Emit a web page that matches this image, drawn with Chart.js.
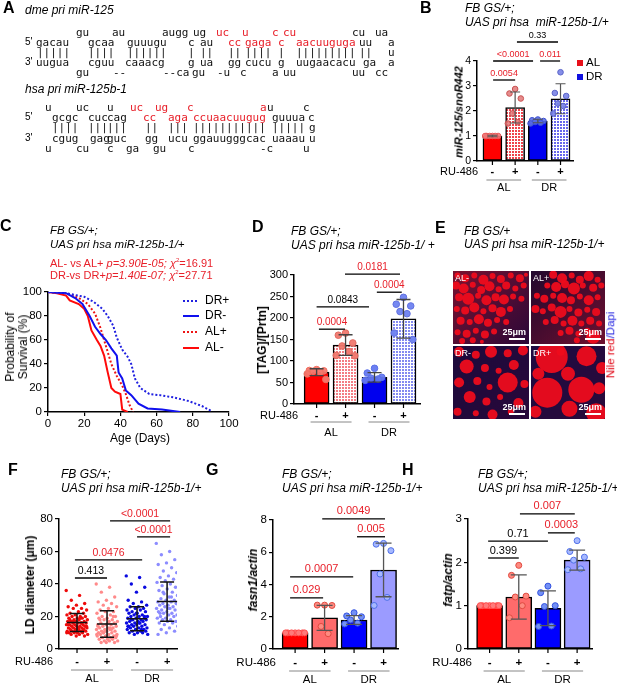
<!DOCTYPE html>
<html>
<head>
<meta charset="utf-8">
<title>miR-125 figure</title>
<script src="https://cdn.jsdelivr.net/npm/chart.js@4.4.1/dist/chart.umd.min.js"></script>
<style>
  html, body { margin: 0; padding: 0; background: #fff; }
  #fig { position: relative; width: 617px; height: 684px; overflow: hidden; font-family: "Liberation Sans", Arial, sans-serif; color: #000; }
  #fig canvas { position: absolute; }
  .t { position: absolute; white-space: nowrap; line-height: 1; transform: translateY(-50%); will-change: transform; }
  .panel { font-size: 16px; font-weight: bold; }
  .hd { font-size: 12px; font-style: italic; }
  .seq { font-family: "DejaVu Sans Mono", monospace; font-size: 11px; color: #111; }
  .pr { font-size: 10px; }
  .red { color: #e8202a; }
  .mid { transform: translate(-50%, -50%); }
  .rot { transform: translate(-50%, -50%) rotate(-90deg); }
  .img { color: #fff; font-size: 9px; }
</style>
</head>
<body>
<div id="fig"></div>
<script>
// ---- data ----
const groupNames = ['AL-', 'AL+', 'DR-', 'DR+'];
const ruSigns = ['-', '+', '-', '+'];
const dietLabels = ['AL', 'DR'];

// B: miR-125/snoR442
const bMeans = [1.0, 2.14, 1.6, 2.49];
const bSds = [0.03, 0.62, 0.07, 0.6];
const bPoints = [
  [1, 1, 1, 1, 1, 1],
  [2.88, 2.7, 2.5, 1.9, 1.55, 1.5],
  [1.66, 1.63, 1.6, 1.56, 1.53, 1.5],
  [3.55, 2.72, 2.6, 2.3, 2.2, 1.9],
];

// C: survival (days / percent)
const survNames = ['DR+', 'DR-', 'AL+', 'AL-'];
const drPlusDays = [0, 10, 20, 25, 30, 33, 36, 38, 41, 44, 46, 48, 51, 56, 62, 70, 78, 85, 90];
const drPlusSurv = [100, 99, 96, 92, 86, 80, 72, 62, 52, 46, 40, 28, 20, 15, 14, 12, 9, 5, 1];
const drMinusDays = [0, 10, 15, 19, 23, 26, 29, 32, 35, 38, 39, 41, 43, 46, 50, 55, 63, 73];
const drMinusSurv = [100, 99, 95, 90, 80, 71, 65, 60, 53, 47, 33, 28, 18, 14, 7, 3, 2, 0];
const alPlusDays = [0, 10, 17, 22, 26, 29, 31, 33, 35, 38, 41, 43, 45, 47];
const alPlusSurv = [100, 99, 95, 90, 82, 70, 60, 50, 40, 30, 22, 15, 6, 0];
const alMinusDays = [0, 5, 10, 12, 17, 20, 22, 24, 27, 29, 31, 33, 35, 37, 40, 41, 44];
const alMinusSurv = [100, 99, 97, 93, 90, 86, 80, 68, 60, 55, 47, 33, 20, 17, 15, 2, 0];

// D: [TAG]/[Prtn]
const dMeans = [74, 137, 62, 198];
const dSds = [8, 24, 11, 45];
const dPoints = [
  [80, 78, 77, 76, 74, 70, 57],
  [165, 160, 142, 135, 122, 113, 112],
  [83, 72, 62, 60, 58, 55],
  [248, 232, 228, 215, 210, 165, 150],
];

// E: lipid droplets seen in each image [x %, y %, radius px]
const eAlMinus = [[6,94,3],[16,90,4],[28,94,3],[40,88,5],[52,93,3],[63,89,4],[76,94,3],[88,90,4],[96,95,2],
  [4,80,4],[14,76,5],[26,81,3],[37,74,4],[48,79,5],[60,75,3],[70,80,4],[82,76,3],[93,80,3],
  [8,64,4],[20,62,6],[33,66,3],[44,60,5],[56,64,4],[67,61,5],[79,65,3],[90,62,3],
  [5,48,3],[16,46,4],[28,50,5],[40,45,3],[52,49,4],[63,44,5],[75,48,3],
  [10,32,4],[22,30,3],[34,34,5],[46,29,4],[58,33,3],[70,30,3],
  [6,16,3],[18,14,4],[30,18,3],[42,13,4],[54,17,3],[12,4,3],[26,5,3],[38,3,2]];
const eAlPlus = [[30,95,4],[42,90,5],[55,94,3],[66,88,4],[78,93,5],[90,88,3],
  [22,80,3],[34,78,5],[46,82,4],[58,76,6],[70,80,3],[84,77,4],[95,80,3],
  [8,66,3],[18,62,4],[30,66,3],[42,63,5],[54,60,4],[66,65,3],[78,60,5],[90,64,3],
  [6,48,4],[16,45,3],[28,50,4],[40,44,6],[52,48,3],[64,43,4],[76,47,3],[88,44,4],
  [20,30,3],[32,33,4],[44,28,3],[56,32,5],[68,28,3],[80,32,4],[92,28,3],
  [40,15,3],[52,18,4],[64,14,3],[76,18,3],[84,10,7],[62,5,3]];
const eDrMinus = [[8,92,5],[30,88,4],[50,92,6],[72,90,4],[92,94,5],
  [18,72,7],[42,70,4],[60,66,3],[80,74,5],
  [8,50,5],[32,52,4],[48,44,3],[72,50,10],[94,48,4],
  [22,30,6],[44,24,4],[62,30,3],[86,22,5],
  [6,10,4],[30,8,3],[52,6,5],[76,10,3]];
const eDrPlus = [[28,85,16],[75,86,10],[96,70,6],[10,62,6],[50,62,7],
  [22,36,15],[68,40,13],[92,42,6],[52,14,8],[88,8,10],[6,10,6],[40,92,4]];

// F: LD diameter (um)
const fMeans = [16.3, 15.4, 18.6, 29.2];
const fSds = [5.6, 8.1, 7.4, 12.1];
const fPoints = [
  [36,33,30,28,27,26,25,25,24,23,22,22,21,21,20,20,20,19,19,19,18,18,18,17,17,17,17,16,16,16,16,15,15,15,15,14,14,14,14,13,13,13,13,12,12,12,12,11,11,11,11,10,10,10,10,9,9,9,8,8,15,16,17,14,13,18,12,11,10,19],
  [40,38,35,32,30,29,28,27,26,25,24,23,23,22,21,20,20,19,19,18,18,17,17,16,16,15,15,15,14,14,13,13,13,12,12,12,11,11,11,10,10,10,9,9,9,8,8,8,7,7,7,6,6,6,5,5,5,4,4,4,14,12,10,8,16,18,20,11,9,13],
  [45,44,40,38,35,30,29,28,27,26,26,25,25,24,24,23,23,22,22,21,21,20,20,20,19,19,19,18,18,18,17,17,17,16,16,16,15,15,15,14,14,14,13,13,13,12,12,12,11,11,11,10,10,10,9,9,16,18,20,22,14,12],
  [65,60,58,55,53,52,50,48,47,45,44,43,42,41,40,39,38,37,36,35,34,33,32,31,30,30,29,29,28,28,27,27,26,26,25,25,24,24,23,23,22,22,21,21,20,20,19,19,18,18,17,17,16,16,15,14,13,12,11,10,9,32,35,28,25,22],
];

// G: fasn1/actin
const gMeans = [1.0, 1.93, 1.8, 4.9];
const gSds = [0, 0.77, 0.27, 1.66];
const gPoints = [
  [1, 1, 1, 1, 1, 1, 1],
  [2.72, 2.72, 2.7, 1.4, 0.95],
  [2.25, 2.05, 2.0, 1.8, 1.6, 1.55],
  [6.55, 6.5, 6.1, 4.65, 3.2, 2.7],
];

// H: fatp/actin
const hMeans = [1.0, 1.2, 0.94, 2.05];
const hSds = [0, 0.51, 0.4, 0.23];
const hPoints = [
  [1, 1, 1, 1, 1, 1, 1],
  [1.93, 1.7, 1.22, 1.2, 1.0, 0.72],
  [1.45, 1.3, 1.0, 0.98, 0.53, 0.52],
  [2.5, 2.25, 2.12, 2.05, 1.85, 1.83],
];

// comparisons: group span (a..b), bracket level, p value
const bSig = [
  { a: 1.08, b: 2.89, y: 4.76, t: '0.33', red: false },
  { a: 0.03, b: 1.79, y: 4.0, t: '<0.0001', red: true },
  { a: 2.1, b: 2.98, y: 4.0, t: '0.011', red: true },
  { a: 0.03, b: 1.0, y: 3.24, t: '0.0054', red: true },
];
const dSig = [
  { a: 0.98, b: 2.88, y: 302, t: '0.0181', red: true },
  { a: 2.08, b: 2.94, y: 260, t: '0.0004', red: true },
  { a: 0, b: 1.81, y: 226, t: '0.0843', red: false },
  { a: 0.08, b: 0.98, y: 174, t: '0.0004', red: true },
];
const fSig = [
  { a: 1.1, b: 3.1, y: 78.8, t: '<0.0001', red: true },
  { a: 2.0, b: 3.1, y: 69, t: '<0.0001', red: true },
  { a: -0.07, b: 2.17, y: 54.8, t: '0.0476', red: true },
  { a: -0.07, b: 1.0, y: 43.7, t: '0.413', red: false },
];
const gSig = [
  { a: 0.92, b: 3.05, y: 8.07, t: '0.0049', red: true },
  { a: 2.1, b: 3.05, y: 6.96, t: '0.005', red: true },
  { a: -0.17, b: 1.97, y: 4.47, t: '0.0007', red: true },
  { a: -0.17, b: 0.95, y: 3.17, t: '0.029', red: true },
];
const hSig = [
  { a: 1.04, b: 2.92, y: 3.12, t: '0.007', red: true },
  { a: 2.0, b: 2.92, y: 2.68, t: '0.0003', red: true },
  { a: -0.05, b: 2.0, y: 2.49, t: '0.71', red: false },
  { a: -0.05, b: 1.0, y: 2.1, t: '0.399', red: false },
];

// ---- helpers ----
const RED = '#e8202a';
const FONT = '"Liberation Sans", Arial, sans-serif';
Chart.defaults.font.family = FONT;
Chart.defaults.color = '#000';
Chart.defaults.animation = false;
Chart.defaults.plugins.legend.display = false;
Chart.defaults.plugins.tooltip.enabled = false;

const fig = document.getElementById('fig');
const spread = [0, -0.25, 0.25, -0.12, 0.12, -0.32, 0.32];

function put(html, x, y, cls, css) {
  const d = document.createElement('div');
  d.className = 't ' + (cls || '');
  d.style.left = x + 'px';
  d.style.top = y + 'px';
  if (css) d.style.cssText += css;
  d.innerHTML = html;
  fig.appendChild(d);
  return d;
}

function addCanvas(box) {
  const c = document.createElement('canvas');
  c.width = box.w;
  c.height = box.h;
  c.style.left = box.l + 'px';
  c.style.top = box.t + 'px';
  c.style.width = box.w + 'px';
  c.style.height = box.h + 'px';
  fig.appendChild(c);
  return c;
}

function dots(color) {
  const c = document.createElement('canvas');
  c.width = 3;
  c.height = 3;
  const g = c.getContext('2d');
  g.fillStyle = '#fff';
  g.fillRect(0, 0, 3, 3);
  g.fillStyle = color;
  g.fillRect(0, 0, 2, 2);
  return g.createPattern(c, 'repeat');
}

function pad(box, area) {
  return { left: 0, top: area.t - box.t, right: box.l + box.w - area.r, bottom: 0 };
}

function yAxis(box, area, max, step, size) {
  return {
    min: 0,
    max,
    ticks: { stepSize: step, font: { size }, color: '#000', padding: 2 },
    grid: { drawOnChartArea: false, tickLength: 4, color: '#000', lineWidth: 1.2 },
    border: { color: '#000', width: 1.5 },
    afterFit(s) { s.width = area.l - box.l; },
  };
}

// linear x axis that keeps exactly the given range (bar charts otherwise pad it)
function xAxis(box, area, min, max) {
  return {
    type: 'linear',
    min,
    max,
    offset: false,
    bounds: 'data',
    ticks: { display: false },
    grid: { display: false },
    border: { color: '#000', width: 1.5 },
    afterBuildTicks(s) { s.min = min; s.max = max; },
    afterFit(s) { s.height = box.t + box.h - area.b; },
  };
}

function drawSig(chart, sig, size) {
  const { ctx, scales: { x, y } } = chart;
  ctx.save();
  ctx.lineWidth = 1.3;
  ctx.strokeStyle = '#000';
  ctx.font = size + 'px ' + FONT;
  ctx.textAlign = 'center';
  ctx.textBaseline = 'bottom';
  sig.forEach((s) => {
    const x1 = x.getPixelForValue(s.a);
    const x2 = x.getPixelForValue(s.b);
    const py = y.getPixelForValue(s.y);
    ctx.beginPath();
    ctx.moveTo(x1, py);
    ctx.lineTo(x2, py);
    ctx.stroke();
    ctx.fillStyle = s.red ? RED : '#000';
    ctx.fillText(s.t, (x1 + x2) / 2, py - 2);
  });
  ctx.restore();
}

function drawRu(chart, ru) {
  const { ctx, chartArea, scales: { x } } = chart;
  const b = chartArea.bottom;
  const px = ruSigns.map((s, i) => x.getPixelForValue(i));
  ctx.save();
  ctx.strokeStyle = '#000';
  ctx.lineWidth = 1.2;
  px.forEach((p) => {
    ctx.beginPath();
    ctx.moveTo(p, b);
    ctx.lineTo(p, b + 4);
    ctx.stroke();
  });
  ctx.fillStyle = '#000';
  ctx.textBaseline = 'middle';
  ctx.font = ru.font + 'px ' + FONT;
  ctx.textAlign = 'right';
  ctx.fillText('RU-486', ru.x, b + ru.sign);
  ctx.textAlign = 'center';
  ctx.font = 'bold ' + ru.font + 'px ' + FONT;
  ruSigns.forEach((s, i) => ctx.fillText(s, px[i], b + ru.sign));
  ctx.font = ru.font + 'px ' + FONT;
  ctx.strokeStyle = '#888';
  ctx.lineWidth = 1;
  dietLabels.forEach((g, k) => {
    const a = px[2 * k] - 6;
    const c = px[2 * k + 1] + 6;
    ctx.beginPath();
    ctx.moveTo(a, b + ru.line);
    ctx.lineTo(c, b + ru.line);
    ctx.stroke();
    ctx.fillText(g, (a + c) / 2, b + ru.lab);
  });
  ctx.restore();
}

function errPlugin(cfg) {
  return {
    id: 'errs',
    afterDatasetsDraw(chart) {
      const { ctx, scales: { x, y } } = chart;
      ctx.save();
      ctx.strokeStyle = cfg.errColor;
      ctx.lineWidth = cfg.errWidth;
      cfg.means.forEach((m, i) => {
        const s = cfg.sds[i];
        const px = x.getPixelForValue(i);
        const top = y.getPixelForValue(m + s);
        const bot = y.getPixelForValue(m - s);
        ctx.beginPath();
        if (cfg.meanHalf) {
          const pm = y.getPixelForValue(m);
          ctx.moveTo(px - cfg.meanHalf, pm);
          ctx.lineTo(px + cfg.meanHalf, pm);
        }
        if (s) {
          ctx.moveTo(px, top);
          ctx.lineTo(px, bot);
          ctx.moveTo(px - cfg.cap, top);
          ctx.lineTo(px + cfg.cap, top);
          ctx.moveTo(px - cfg.cap, bot);
          ctx.lineTo(px + cfg.cap, bot);
        }
        ctx.stroke();
      });
      ctx.restore();
    },
    afterDraw(chart) {
      drawSig(chart, cfg.sig, cfg.sigFont);
      drawRu(chart, cfg.ru);
    },
  };
}

function pointSets(points, fills, lines, r, width) {
  return points.map((vals, g) => ({
    type: 'scatter',
    data: vals.map((v, k) => ({ x: g + spread[k % spread.length] * width, y: v })),
    backgroundColor: fills[g],
    borderColor: lines[g],
    borderWidth: 1,
    pointRadius: r,
    order: 1,
  }));
}

function barPanel(box, area, cfg) {
  new Chart(addCanvas(box), {
    type: 'bar',
    data: {
      datasets: [
        {
          data: cfg.means.map((m, i) => ({ x: i, y: m })),
          backgroundColor: cfg.fills,
          borderColor: '#000',
          borderWidth: 1.5,
          borderSkipped: false,
          barThickness: cfg.barW,
          order: 2,
        },
        ...pointSets(cfg.points, cfg.dotFill, cfg.dotLine, cfg.dotR, 1),
      ],
    },
    options: {
      responsive: false,
      layout: { padding: pad(box, area) },
      scales: {
        x: xAxis(box, area, cfg.xMin, cfg.xMax),
        y: yAxis(box, area, cfg.yMax, cfg.yStep, cfg.tick),
      },
    },
    plugins: [errPlugin(cfg)],
  });
}

// ---- panel A: sequences ----
put('A', 3, 8, 'panel');
put('dme pri miR-125', 25, 10, 'hd');
put('hsa pri miR-125b-1', 25, 89, 'hd');
const seqRows = [
  [32, [['gu', 76], ['au', 112], ['augg', 162], ['ug', 193], ['uc', 216, 1], ['u', 242, 1], ['c', 272, 1], ['cu', 283, 1], ['cu', 352], ['ua', 375]]],
  [42, [["5'", 25, 0, 1], ['gacau', 36], ['gcaa', 88], ['guuugu', 127], ['c', 188], ['au', 200], ['cc', 228, 1], ['gaga', 245, 1], ['c', 278, 1], ['aacuuguga', 296, 1], ['uu', 359], ['a', 388]]],
  [52, [['|||||', 37], ['||||', 88], ['||||||', 127], ['|', 188], ['||', 200], ['||', 228], ['||||', 245], ['|', 278], ['|||||||||', 296], ['||', 359], ['u', 388]]],
  [62, [["3'", 25, 0, 1], ['uugua', 36], ['cguu', 88], ['caaacg', 125], ['g', 188], ['ua', 200], ['gg', 228], ['cucu', 245], ['g', 278], ['uugaacacu', 296], ['ga', 363], ['a', 388]]],
  [72, [['gu', 76], ['--', 113], ['--ca', 163], ['gu', 192], ['-u', 217], ['c', 240], ['a', 272], ['uu', 283], ['uu', 352], ['cc', 375]]],
  [107, [['u', 45], ['uc', 76], ['u', 107], ['uc', 130, 1], ['ug', 155, 1], ['c', 187, 1], ['a', 260, 1], ['u', 267], ['c', 303]]],
  [117, [["5'", 25, 0, 1], ['gcgc', 52], ['cuc', 88], ['cag', 107], ['cc', 143, 1], ['aga', 168, 1], ['ccuaacuugug', 193, 1], ['guuua', 272], ['c', 308]]],
  [127, [['||||', 52], ['|||', 88], ['|||', 107], ['||', 145], ['|||', 168], ['|||||||||||', 193], ['|||||', 272], ['g', 309]]],
  [138, [["3'", 25, 0, 1], ['cgug', 52], ['gag', 90], ['guc', 107], ['gg', 145], ['ucu', 168], ['ggauugggcac', 193], ['uaaau', 272], ['u', 309]]],
  [148, [['u', 45], ['cu', 76], ['c', 107], ['ga', 126], ['gu', 153], ['c', 188], ['-c', 260], ['u', 303]]],
];
seqRows.forEach(([y, toks]) => {
  toks.forEach(([s, x, r, prime]) => put(s, x, y, (prime ? 'pr' : 'seq') + (r ? ' red' : '')));
});

// ---- panel B ----
const bBox = { l: 428, t: 28, w: 189, h: 170 };
const bArea = { l: 477, t: 61, r: 573, b: 161 };
put('B', 420, 8, 'panel');
put('FB GS/+;', 465, 8, 'hd');
put('UAS pri hsa&nbsp; miR-125b-1/+', 465, 22, 'hd');
put('miR-125/snoR442', 459, 112, 'rot', 'font-size:11px;font-weight:bold;font-style:italic;');
put('', 577, 60, '', 'width:6px;height:6px;background:#e8101a;transform:none;');
put('AL', 586, 63, '', 'font-size:11.5px;');
put('', 577, 74, '', 'width:6px;height:6px;background:#1010e0;transform:none;');
put('DR', 586, 77, '', 'font-size:11.5px;');
barPanel(bBox, bArea, {
  means: bMeans, sds: bSds, points: bPoints,
  fills: ['#ff0000', dots('rgba(235,20,30,0.8)'), '#0000f0', dots('rgba(40,40,230,0.7)')],
  dotFill: ['rgba(240,120,120,0.9)', 'rgba(225,120,120,0.85)', 'rgba(90,110,230,0.9)', 'rgba(120,130,230,0.9)'],
  dotLine: ['#e85a5a', '#c85050', '#3c50d0', '#5a64c8'],
  dotR: 2.8, barW: 19, xMin: -0.68, xMax: 3.55, yMax: 4, yStep: 1, tick: 10.5,
  errColor: '#555', errWidth: 1.2, cap: 5, sig: bSig, sigFont: 9,
  ru: { x: 478 - bBox.l, sign: 11, line: 19, lab: 27, font: 11 },
});

// ---- panel C ----
const cBox = { l: 0, t: 280, w: 240, h: 170 };
const cArea = { l: 48, t: 292, r: 229, b: 412 };
put('C', 0, 226, 'panel');
put('FB GS/+;', 50, 231, 'hd', 'font-size:11.5px;');
put('UAS pri hsa miR-125b-1/+', 50, 245, 'hd', 'font-size:11.5px;');
put('AL- vs AL+ <i>p=3.90E-05;</i> <i>&chi;</i><sup style="font-size:6px">2</sup>=16.91', 50, 263, 'red', 'font-size:11px;');
put('DR-vs DR+<i>p=1.40E-07;</i> <i>&chi;</i><sup style="font-size:6px">2</sup>=27.71', 50, 275, 'red', 'font-size:11px;');
put('Probability of', 10, 347, 'rot', 'font-size:12px;');
put('Survival (%)', 23, 347, 'rot', 'font-size:12px;');
put('Age (Days)', 140, 438, 'mid', 'font-size:12px;');
const survSeries = [
  { days: drPlusDays, surv: drPlusSurv, color: '#2020e0', dash: [2, 2] },
  { days: drMinusDays, surv: drMinusSurv, color: '#1010ee', dash: [] },
  { days: alPlusDays, surv: alPlusSurv, color: '#ee1515', dash: [2, 2] },
  { days: alMinusDays, surv: alMinusSurv, color: '#ff0a0a', dash: [] },
];
const cLegendY = [301, 316, 332, 348];
new Chart(addCanvas(cBox), {
  type: 'line',
  data: {
    datasets: survSeries.map((s, i) => ({
      label: survNames[i],
      data: s.days.map((d, k) => ({ x: d, y: s.surv[k] })),
      borderColor: s.color,
      borderDash: s.dash,
      borderWidth: 2,
      pointRadius: 0,
      tension: 0,
    })),
  },
  options: {
    responsive: false,
    layout: { padding: pad(cBox, cArea) },
    scales: {
      x: {
        type: 'linear', min: 0, max: 100,
        ticks: { stepSize: 20, font: { size: 11.5 }, color: '#000', padding: 1 },
        grid: { drawOnChartArea: false, tickLength: 4, color: '#000', lineWidth: 1.2 },
        border: { color: '#000', width: 1.5 },
        afterFit(s) { s.height = cBox.t + cBox.h - cArea.b; },
      },
      y: yAxis(cBox, cArea, 100, 20, 11.5),
    },
  },
  plugins: [{
    id: 'survLegend',
    afterDraw(chart) {
      const { ctx } = chart;
      ctx.save();
      ctx.font = '12px ' + FONT;
      ctx.textBaseline = 'middle';
      ctx.fillStyle = '#000';
      survSeries.forEach((s, i) => {
        const y = cLegendY[i] - cBox.t;
        ctx.strokeStyle = s.color;
        ctx.lineWidth = 2;
        ctx.setLineDash(s.dash);
        ctx.beginPath();
        ctx.moveTo(183 - cBox.l, y);
        ctx.lineTo(199 - cBox.l, y);
        ctx.stroke();
        ctx.fillText(survNames[i], 205 - cBox.l, y);
      });
      ctx.restore();
    },
  }],
});

// ---- panel D ----
const dBox = { l: 240, t: 255, w: 185, h: 190 };
const dArea = { l: 294, t: 275, r: 420, b: 404 };
put('D', 252, 227, 'panel');
put('FB GS/+;', 291, 231, 'hd');
put('UAS pri hsa miR-125b-1/ +', 291, 245, 'hd');
put('[TAG]/[Prtn]', 262, 340, 'rot', 'font-size:12px;font-weight:bold;');
barPanel(dBox, dArea, {
  means: dMeans, sds: dSds, points: dPoints,
  fills: ['#ff0000', dots('rgba(235,40,50,0.6)'), '#0000ee', dots('rgba(50,60,230,0.6)')],
  dotFill: ['rgba(245,120,110,0.95)', 'rgba(240,120,110,0.95)', 'rgba(100,120,240,0.95)', 'rgba(110,130,240,0.95)'],
  dotLine: ['#f07060', '#e06a60', '#5a70e8', '#6070e0'],
  dotR: 3.3, barW: 25, xMin: -0.78, xMax: 3.57, yMax: 300, yStep: 50, tick: 11,
  errColor: '#444', errWidth: 1.3, cap: 7, sig: dSig, sigFont: 10,
  ru: { x: 298 - dBox.l, sign: 12, line: 18, lab: 29, font: 11 },
});

// ---- panel E: micrographs ----
put('E', 435, 228, 'panel');
put('FB GS/+', 464, 231, 'hd');
put('UAS pri hsa miR-125b-1/+', 464, 244, 'hd');
const eImages = [
  { name: 'AL-', circles: eAlMinus, box: { l: 453, t: 271, w: 76, h: 73 }, bg: ['#7a1230', '#2a0838'] },
  { name: 'AL+', circles: eAlPlus, box: { l: 531, t: 271, w: 74, h: 73 }, bg: ['#22082e', '#6e1030'] },
  { name: 'DR-', circles: eDrMinus, box: { l: 453, t: 346, w: 76, h: 73 }, bg: ['#1c0a3c', '#28083a'] },
  { name: 'DR+', circles: eDrPlus, box: { l: 531, t: 346, w: 74, h: 73 }, bg: ['#1e0a42', '#2a0a3a'] },
];
eImages.forEach((im) => {
  new Chart(addCanvas(im.box), {
    type: 'bubble',
    data: {
      datasets: [{
        data: im.circles.map(([x, y, r]) => ({ x, y, r })),
        backgroundColor: 'rgba(238,12,28,0.95)',
        borderWidth: 0,
        clip: false,
      }],
    },
    options: {
      responsive: false,
      layout: { padding: 0, autoPadding: false },
      scales: { x: { display: false, min: 0, max: 100 }, y: { display: false, min: 0, max: 100 } },
    },
    plugins: [{
      id: 'bg',
      beforeDraw(chart) {
        const { ctx, width, height } = chart;
        const g = ctx.createLinearGradient(0, 0, width, height);
        g.addColorStop(0, im.bg[0]);
        g.addColorStop(1, im.bg[1]);
        ctx.save();
        ctx.fillStyle = g;
        ctx.fillRect(0, 0, width, height);
        ctx.restore();
      },
    }],
  });
  const b = im.box;
  put(im.name, b.l + 2, b.t + 7, 'img');
  put('25&mu;m', b.l + b.w - 3, b.t + b.h - 12, 'img', 'font-weight:bold;transform:translate(-100%,-50%);');
  put('', b.l + b.w - 20, b.t + b.h - 6, '', 'width:16px;height:1.5px;background:#fff;transform:none;');
});
put('<span style="color:#e00010">Nile red</span><span style="color:#2020e0">/Dapi</span>', 611, 345, 'rot', 'font-size:11.5px;');

// ---- panel F ----
const fBox = { l: 0, t: 500, w: 200, h: 184 };
const fArea = { l: 59, t: 519, r: 177, b: 649 };
put('F', 8, 470, 'panel');
put('FB GS/+;', 61, 474, 'hd');
put('UAS pri hsa miR-125b-1/+', 61, 488, 'hd');
put('LD diameter (&mu;m)', 30, 585, 'rot', 'font-size:12px;font-weight:bold;');
const fCfg = {
  means: fMeans, sds: fSds, errColor: '#111', errWidth: 1.5, cap: 7, meanHalf: 10,
  sig: fSig, sigFont: 10.5,
  ru: { x: 53 - fBox.l, sign: 13, line: 21, lab: 30, font: 11 },
};
new Chart(addCanvas(fBox), {
  type: 'scatter',
  data: {
    datasets: fPoints.map((vals, g) => ({
      data: vals.map((v, k) => ({ x: g + (((k * 0.618034) % 1) - 0.5) * 0.72, y: v })),
      backgroundColor: ['#ee0a0a', '#ff8a8a', '#0a0ae0', '#8c8cff'][g],
      borderWidth: 0,
      pointRadius: 1.7,
    })),
  },
  options: {
    responsive: false,
    layout: { padding: pad(fBox, fArea) },
    scales: {
      x: xAxis(fBox, fArea, -0.6, 3.33),
      y: yAxis(fBox, fArea, 80, 20, 11.5),
    },
  },
  plugins: [errPlugin(fCfg)],
});

// ---- panel G ----
const gBox = { l: 200, t: 500, w: 205, h: 184 };
const gArea = { l: 273, t: 520, r: 398, b: 649 };
put('G', 206, 470, 'panel');
put('FB GS/+;', 282, 474, 'hd');
put('UAS pri hsa miR-125b-1/+', 282, 488, 'hd');
put('fasn1/actin', 253, 580, 'rot', 'font-size:12px;font-weight:bold;font-style:italic;');
barPanel(gBox, gArea, {
  means: gMeans, sds: gSds, points: gPoints,
  fills: ['#ff0000', '#ff6b6b', '#0000ff', '#9b9bff'],
  dotFill: ['#ff7a7a', '#ff8a80', '#7390f5', '#a6b8ff'],
  dotLine: ['#ff4a4a', '#e04a40', '#3050e0', '#5070e8'],
  dotR: 3, barW: 26, xMin: -0.75, xMax: 3.49, yMax: 8, yStep: 2, tick: 11.5,
  errColor: '#555', errWidth: 1.3, cap: 8, sig: gSig, sigFont: 11,
  ru: { x: 276 - gBox.l, sign: 14, line: 22, lab: 31, font: 11.5 },
});

// ---- panel H ----
const hBox = { l: 405, t: 500, w: 212, h: 184 };
const hArea = { l: 468, t: 519, r: 592, b: 649 };
put('H', 402, 470, 'panel');
put('FB GS/+;', 478, 474, 'hd');
put('UAS pri hsa miR-125b-1/+', 478, 488, 'hd');
put('fatp/actin', 448, 580, 'rot', 'font-size:12px;font-weight:bold;font-style:italic;');
barPanel(hBox, hArea, {
  means: hMeans, sds: hSds, points: hPoints,
  fills: ['#ff0000', '#ff6b6b', '#0000ff', '#9b9bff'],
  dotFill: ['#ff7a7a', '#ff8a80', '#7390f5', '#a6b8ff'],
  dotLine: ['#ff4a4a', '#e04a40', '#3050e0', '#5070e8'],
  dotR: 3, barW: 26, xMin: -0.74, xMax: 3.51, yMax: 3, yStep: 1, tick: 11.5,
  errColor: '#555', errWidth: 1.3, cap: 8, sig: hSig, sigFont: 11,
  ru: { x: 472 - hBox.l, sign: 14, line: 22, lab: 31, font: 11.5 },
});
</script>
</body>
</html>
